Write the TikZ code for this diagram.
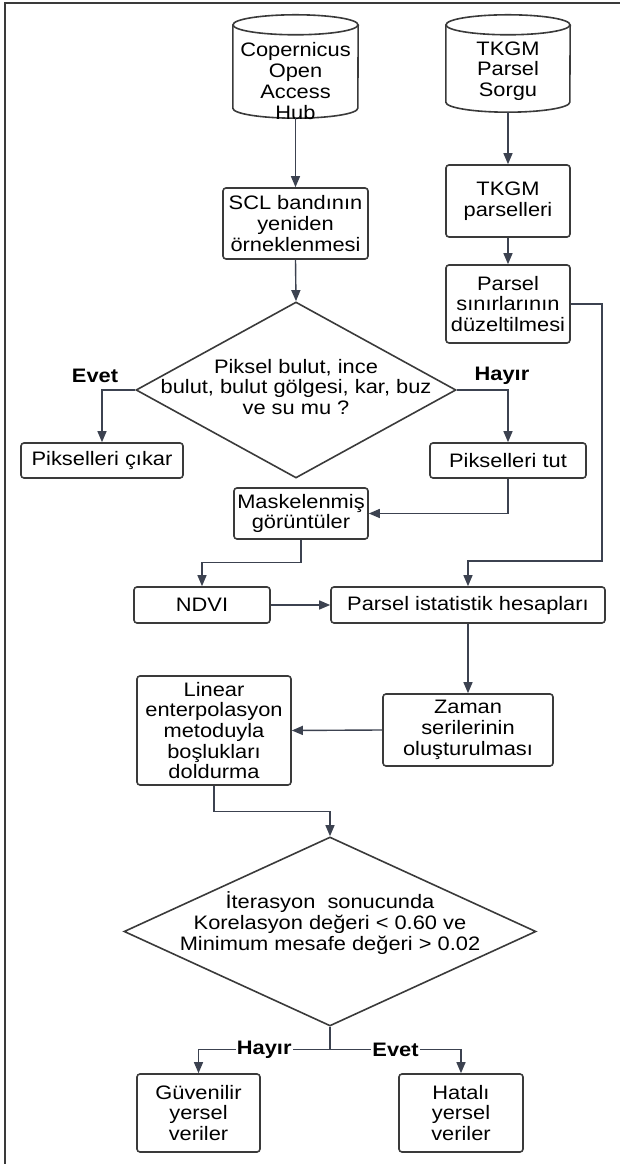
\documentclass[tikz,border=0pt]{standalone}
\usepackage{fontspec}
\setmainfont{Liberation Sans}[FakeStretch=1.12]
\usetikzlibrary{arrows.meta,shapes.geometric}
\definecolor{boxgray}{HTML}{3A3A3A}
\definecolor{arrowgray}{HTML}{3C4250}

\begin{document}
\begin{tikzpicture}[x=1pt,y=1pt]
\tikzset{every node/.style={font=\fontsize{19.5}{20.7}\selectfont, align=center, inner sep=0pt}}
\tikzset{proc/.style={draw=boxgray, line width=1.6pt, rounded corners=3pt}}
\tikzset{decision/.style={draw=boxgray, line width=1.6pt, shape=diamond}}
\tikzset{cyl/.style={draw=boxgray, line width=1.6pt}}
\tikzset{flow/.style={draw=arrowgray, line width=1.4pt, -{Triangle[length=11pt,width=9pt]}}}
\tikzset{yesno/.style={font=\fontsize{19.5}{20.7}\selectfont\bfseries}}

\useasboundingbox (0,0) rectangle (620,1164);
\draw[boxgray, line width=1.2pt] (5,0) -- (5,1161) -- (620,1161);

% data sources
\node[minimum width=125pt, minimum height=103pt] (cop) at (295.5,1097.5) {};
\draw[cyl] ([yshift=-10pt]cop.north west) -- ([yshift=10pt]cop.south west) arc[start angle=180, end angle=360, x radius=62.5pt, y radius=10pt] -- ([yshift=-10pt]cop.north east);
\draw[cyl] ([yshift=-10pt]cop.north) ellipse[x radius=62.5pt, y radius=10pt];
\node (coptext) at (295.5,1083) {Copernicus\\Open\\Access\\Hub};

\node[minimum width=124pt, minimum height=97pt] (tkgm) at (508,1100.5) {};
\draw[cyl] ([yshift=-10pt]tkgm.north west) -- ([yshift=10pt]tkgm.south west) arc[start angle=180, end angle=360, x radius=62pt, y radius=10pt] -- ([yshift=-10pt]tkgm.north east);
\draw[cyl] ([yshift=-10pt]tkgm.north) ellipse[x radius=62pt, y radius=10pt];
\node (tkgmtext) at (508,1093) {TKGM\\Parsel\\Sorgu};

% processing
\node[proc, minimum width=145pt, minimum height=71pt] (scl) at (295.5,940.5) {SCL bandının\\yeniden\\örneklenmesi};
\node[proc, minimum width=124pt, minimum height=72pt] (parseller) at (508,963) {TKGM\\parselleri};
\node[proc, minimum width=124pt, minimum height=78pt] (sinir) at (508,860) {Parsel\\sınırlarının\\düzeltilmesi};

\node[decision, minimum width=320pt, minimum height=176pt] (bulut) at (296,774) {};
\node (buluttext) at (296,777) {Piksel bulut, ince\\bulut, bulut gölgesi, kar, buz\\ve su mu ?};
\node[yesno] (evet1) at (95,788) {Evet};
\node[yesno] (hayir1) at (502,788) {Hayır};

\node[proc, minimum width=162pt, minimum height=35pt] (cikar) at (102,703.5) {Pikselleri çıkar};
\node[proc, minimum width=156pt, minimum height=35pt] (tut) at (508,703.5) {Pikselleri tut};
\node[proc, minimum width=134pt, minimum height=51pt] (maske) at (301,650.5) {Maskelenmiş\\görüntüler};
\node[proc, minimum width=136pt, minimum height=36pt] (ndvi) at (202,559) {NDVI};
\node[proc, minimum width=274pt, minimum height=36pt] (istat) at (468,559) {Parsel istatistik hesapları};
\node[proc, minimum width=170pt, minimum height=72pt] (zaman) at (468,434) {Zaman\\serilerinin\\oluşturulması};
\node[proc, minimum width=154pt, minimum height=109pt] (linear) at (214,433.5) {Linear\\enterpolasyon\\metoduyla\\boşlukları\\doldurma};

\node[decision, minimum width=412pt, minimum height=189pt] (korel) at (330,232.5) {};
\node (koreltext) at (330,241) {İterasyon\ \ sonucunda\\Korelasyon değeri < 0.60 ve\\Minimum mesafe değeri > 0.02};

\node[proc, minimum width=123pt, minimum height=78pt] (guven) at (198.5,51) {Güvenilir\\yersel\\veriler};
\node[proc, minimum width=124pt, minimum height=78pt] (hatali) at (461,51) {Hatalı\\yersel\\veriler};

% connectors
\draw[flow] (cop.south) -- (scl.north);
\draw[flow] (tkgm.south) -- (parseller.north);
\draw[flow] (parseller.south) -- (sinir.north);
\draw[flow] (scl.south) -- (bulut.north);
\draw[flow] (bulut.west) -| (cikar.north);
\draw[flow] (bulut.east) -| (tut.north);
\draw[flow] (tut.south) |- (maske.east);
\draw[flow] (maske.south) -- ++(0,-23) -| (ndvi.north);
\draw[flow] (ndvi.east) -- (istat.west);
\draw[flow] (sinir.east) -- ++(31,0) |- ([yshift=25pt]istat.north) -- (istat.north);
\draw[flow] (istat.south) -- (zaman.north);
\draw[flow] (zaman.west) -- (linear.east);
\draw[flow] (linear.south) -- ++(0,-26) -| (korel.north);
\draw[flow] (korel.south) -- ++(0,-23) -| node[yesno, pos=0.25, fill=white, inner sep=1pt] {Hayır} (guven.north);
\draw[flow] (korel.south) -- ++(0,-23) -| node[yesno, pos=0.25, fill=white, inner sep=1pt] {Evet} (hatali.north);

\end{tikzpicture}
\end{document}
